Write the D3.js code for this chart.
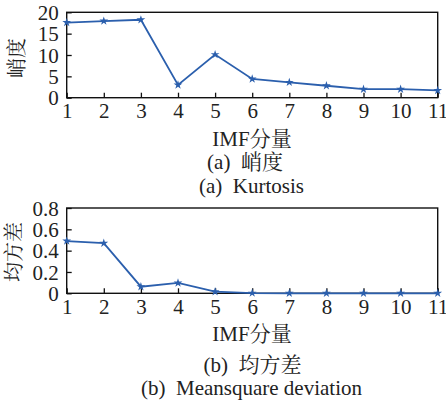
<!DOCTYPE html>
<html>
<head>
<meta charset="utf-8">
<script src="https://cdn.jsdelivr.net/npm/d3@7"></script>
<style>
  body { margin: 0; background: #fff; }
  svg text { font-family: "Liberation Serif", "Noto Serif CJK SC", "Noto Sans CJK SC", serif; fill: #222; }
</style>
</head>
<body>
<div id="chart"></div>
<script>
// IMF components 1..11
var imfIndex = [1, 2, 3, 4, 5, 6, 7, 8, 9, 10, 11];
var kurtosis = [17.6, 17.95, 18.25, 3.0, 10.1, 4.4, 3.6, 2.8, 2.0, 2.0, 1.7];
var meanSquare = [0.49, 0.47, 0.062, 0.097, 0.015, 0.002, 0, 0, 0, 0, 0];
var kurtTicks = [0, 5, 10, 15, 20];
var msTicks = [0, 0.2, 0.4, 0.6, 0.8];

var W = 446, H = 406;
var lineColor = '#2b5fad';
var fs = 21;

var svg = d3.select('#chart').append('svg')
  .attr('width', W)
  .attr('height', H);

var x = d3.scaleLinear().domain([1, 11]).range([66.7, 437.7]);

function drawPanel(cfg) {
  var y = d3.scaleLinear().domain(cfg.domain).range([cfg.bottom, cfg.top]);
  var g = svg.append('g');

  // x axis, ticks pointing inward
  var xa = g.append('g')
    .attr('transform', 'translate(0,' + cfg.bottom + ')')
    .call(d3.axisBottom(x).tickValues(imfIndex).tickSizeInner(-5).tickSizeOuter(0).tickPadding(cfg.xPad));
  xa.select('.domain').remove();
  xa.selectAll('line').attr('stroke', '#111').attr('stroke-width', 1.3);
  xa.selectAll('text').attr('font-size', fs).attr('fill', '#222');

  // y axis
  var ya = g.append('g')
    .attr('transform', 'translate(' + x.range()[0] + ',0)')
    .call(d3.axisLeft(y).tickValues(cfg.ticks).tickFormat(cfg.fmt).tickSizeInner(-5).tickSizeOuter(0).tickPadding(8));
  ya.select('.domain').remove();
  ya.selectAll('line').attr('stroke', '#111').attr('stroke-width', 1.3);
  ya.selectAll('text').attr('font-size', fs).attr('fill', '#222').attr('dy', '0.34em');

  // frame
  g.append('rect')
    .attr('x', x.range()[0])
    .attr('y', cfg.top)
    .attr('width', x.range()[1] - x.range()[0])
    .attr('height', cfg.bottom - cfg.top)
    .attr('fill', 'none')
    .attr('stroke', '#111')
    .attr('stroke-width', 1.4);

  var pts = imfIndex.map(function (d, i) { return [d, cfg.values[i]]; });

  g.append('path')
    .datum(pts)
    .attr('fill', 'none')
    .attr('stroke', lineColor)
    .attr('stroke-width', 1.8)
    .attr('d', d3.line().x(function (d) { return x(d[0]); }).y(function (d) { return y(d[1]); }));

  g.selectAll('.mark')
    .data(pts)
    .enter().append('path')
    .attr('class', 'mark')
    .attr('transform', function (d) { return 'translate(' + x(d[0]) + ',' + y(d[1]) + ')'; })
    .attr('d', d3.symbol().type(d3.symbolStar).size(24))
    .attr('fill', lineColor);

  // y label (rotated)
  g.append('text')
    .attr('transform', 'translate(' + cfg.ylabX + ',' + cfg.ylabY + ') rotate(-90)')
    .attr('text-anchor', 'middle')
    .attr('dy', '0.35em')
    .attr('font-size', 20)
    .text(cfg.ylabel);

  g.append('text')
    .attr('x', 252)
    .attr('y', cfg.bottom + 48)
    .attr('text-anchor', 'middle')
    .attr('font-size', fs)
    .text('IMF分量');

  g.append('text')
    .attr('x', cfg.cap1X)
    .attr('y', cfg.cap1Y)
    .attr('text-anchor', 'middle')
    .attr('font-size', fs)
    .attr('xml:space', 'preserve')
    .text(cfg.cap1);

  g.append('text')
    .attr('x', 251.5)
    .attr('y', cfg.cap2Y)
    .attr('text-anchor', 'middle')
    .attr('font-size', fs)
    .attr('xml:space', 'preserve')
    .text(cfg.cap2);
}

drawPanel({
  top: 12.3, bottom: 97.7, domain: [0, 20], ticks: kurtTicks,
  fmt: d3.format('d'), values: kurtosis, xPad: 5,
  ylabel: '峭度', ylabX: 17, ylabY: 58,
  cap1: '(a)  峭度', cap1X: 245, cap1Y: 169,
  cap2: '(a)  Kurtosis', cap2Y: 193
});

drawPanel({
  top: 208, bottom: 293.3, domain: [0, 0.8], ticks: msTicks,
  fmt: function (d) { return d === 0 ? '0' : d3.format('.1f')(d); }, values: meanSquare, xPad: 6,
  ylabel: '均方差', ylabX: 14, ylabY: 252,
  cap1: '(b)  均方差', cap1X: 252.5, cap1Y: 372,
  cap2: '(b)  Meansquare deviation', cap2Y: 395
});
</script>
</body>
</html>
